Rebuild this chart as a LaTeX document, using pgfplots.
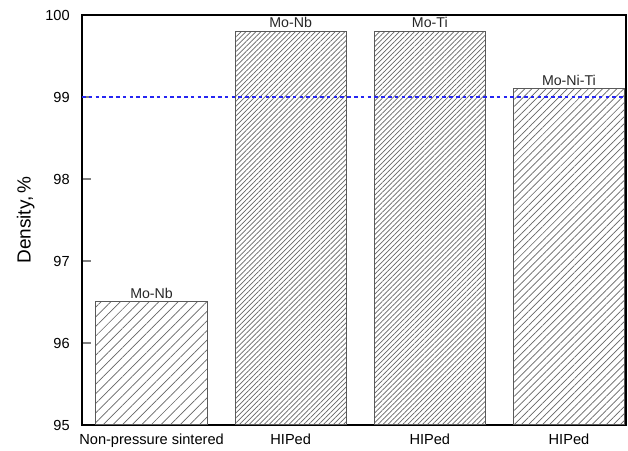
\documentclass[border=0pt]{standalone}
\usepackage{pgfplots}
\pgfplotsset{compat=1.18}
\usepackage{fontspec}
\setmainfont{Liberation Sans}
\usetikzlibrary{patterns.meta}
\definecolor{barline}{gray}{0.35}
\definecolor{refblue}{rgb}{0.15,0.15,0.95}
\begin{document}
\begin{tikzpicture}
\begin{axis}[
  scale only axis,
  width=272pt, height=205pt,
  xmin=-0.5, xmax=3.41,
  ymin=95, ymax=100,
  ytick={95,96,97,98,99,100},
  xtick={0,1,2,3},
  xticklabels={Non-pressure sintered, HIPed, HIPed, HIPed},
  major x tick style={draw=none},
  tick align=inside,
  ytick pos=left,
  major tick length=4.5pt,
  axis line style={line width=0.9pt},
  y tick style={line width=0.9pt},
  ylabel={Density,\,\%},
  ylabel style={font=\fontsize{9.5}{11}\selectfont, yshift=-1.5pt},
  tick label style={font=\fontsize{7.3}{9}\selectfont},
  yticklabel style={xshift=-2.6pt},
  xticklabel style={yshift=3.5pt},
  /pgf/number format/assume math mode=true,
  ybar, bar width=0.8, bar shift=0pt,
  nodes near coords style={font=\fontsize{7.1}{8}\selectfont, inner sep=1.5pt, text=black!85},
]
\addplot[draw=barline, line width=0.5pt, fill=white,
  postaction={pattern={Lines[angle=45,distance=3.4pt,line width=0.35pt]}, pattern color=black!60},
  nodes near coords={Mo-Nb}] coordinates {(0,96.5)};
\addplot[draw=barline, line width=0.5pt, fill=white,
  postaction={pattern={Lines[angle=45,distance=1.75pt,line width=0.35pt]}, pattern color=black!60},
  nodes near coords={Mo-Nb}] coordinates {(1,99.8)};
\addplot[draw=barline, line width=0.5pt, fill=white,
  postaction={pattern={Lines[angle=45,distance=1.75pt,line width=0.35pt]}, pattern color=black!60},
  nodes near coords={Mo-Ti}] coordinates {(2,99.8)};
\addplot[draw=barline, line width=0.5pt, fill=white,
  postaction={pattern={Lines[angle=45,distance=2.5pt,line width=0.35pt]}, pattern color=black!60},
  nodes near coords={Mo-Ni-Ti}] coordinates {(3,99.1)};
\addplot[sharp plot, no marks, draw=refblue, dash pattern=on 1.8pt off 1.6pt, line width=0.6pt, nodes near coords={}] coordinates {(-0.5,99) (3.41,99)};
\coordinate (bl) at (rel axis cs:0,0);
\coordinate (tr) at (rel axis cs:1,1);
\end{axis}
\pgfresetboundingbox
\path ([xshift=-41pt,yshift=-13pt]bl) rectangle ([xshift=1pt,yshift=7.5pt]tr);
\end{tikzpicture}
\end{document}
